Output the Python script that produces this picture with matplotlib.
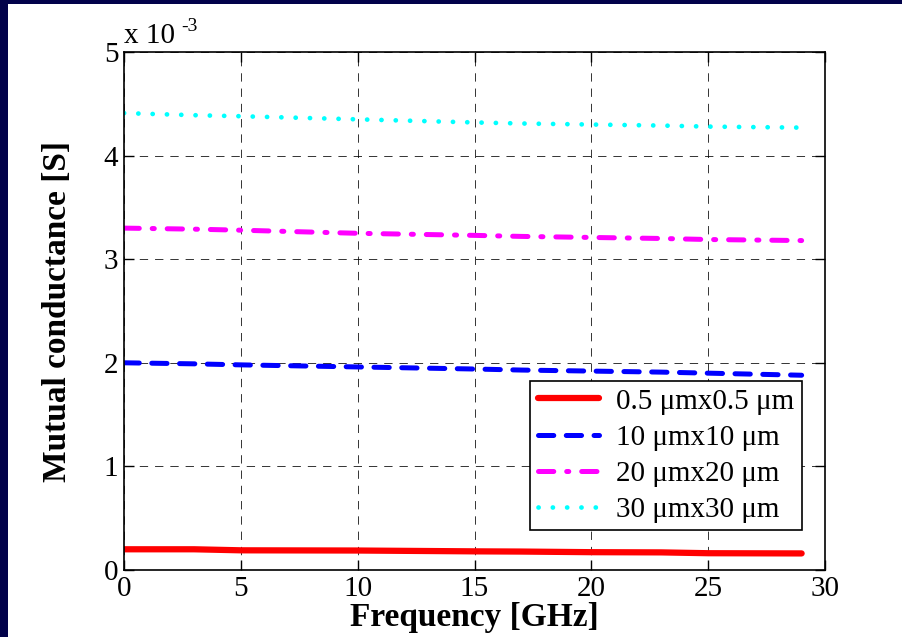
import matplotlib
matplotlib.use("Agg")
import matplotlib.pyplot as plt
from matplotlib.patches import Rectangle
from matplotlib.ticker import FuncFormatter, MultipleLocator

plt.rcParams['font.family'] = ['Liberation Serif', 'DejaVu Serif']
plt.rcParams['lines.scale_dashes'] = False

# Data (frequency in GHz, conductance in S)
freq = [0, 3, 5, 10, 15, 17, 20, 23, 25, 29]
g_05 = [0.200e-3, 0.200e-3, 0.190e-3, 0.188e-3, 0.180e-3, 0.178e-3, 0.172e-3, 0.170e-3, 0.162e-3, 0.160e-3]
g_10 = [2.00e-3, 1.99e-3, 1.98e-3, 1.96e-3, 1.94e-3, 1.93e-3, 1.92e-3, 1.91e-3, 1.90e-3, 1.88e-3]
g_20 = [3.30e-3, 3.29e-3, 3.28e-3, 3.25e-3, 3.23e-3, 3.22e-3, 3.21e-3, 3.20e-3, 3.19e-3, 3.18e-3]
g_30 = [4.41e-3, 4.39e-3, 4.38e-3, 4.35e-3, 4.32e-3, 4.31e-3, 4.30e-3, 4.29e-3, 4.28e-3, 4.27e-3]
labels = ['0.5 μmx0.5 μm', '10 μmx10 μm', '20 μmx20 μm', '30 μmx30 μm']

fig = plt.figure(figsize=(9.02, 6.37), dpi=100)
fig.patch.set_facecolor('#02024a')
fig.patches.append(Rectangle((8/902, 0), 1, (637-4)/637, transform=fig.transFigure,
                             facecolor='white', edgecolor='none', zorder=-10))

ax = fig.add_axes([124/902, 67/637, 701/902, 518/637])
ax.set_facecolor('white')

ax.plot(freq, g_05, color='red', lw=4.5, solid_capstyle='round', label=labels[0])
ax.plot(freq, g_10, color='blue', lw=3.6, dashes=(11, 9), dash_capstyle='round', label=labels[1])
ax.plot(freq, g_20, color='magenta', lw=3.6, dashes=(11, 9.3, 1.5, 9.3), dash_capstyle='round', label=labels[2])
ax.plot(freq, g_30, color='cyan', lw=3.4, dashes=(0.1, 10.2), dash_capstyle='round', label=labels[3])

ax.set_xlim(0, 30)
ax.set_ylim(0, 5e-3)
ax.xaxis.set_major_locator(MultipleLocator(5))
ax.yaxis.set_major_locator(MultipleLocator(1e-3))
ax.yaxis.set_major_formatter(FuncFormatter(lambda v, p: f"{v*1e3:.0f}"))
ax.grid(True, color='black', linestyle=(0, (6, 5)), linewidth=0.7, alpha=0.8)
ax.tick_params(direction='in', length=7, width=1, top=True, right=True, labelsize=21, pad=4)
for s in ax.spines.values():
    s.set_linewidth(1.2)

ax.set_xlabel('Frequency [GHz]', fontsize=24, fontweight='bold', labelpad=0)
ax.set_ylabel('Mutual conductance [S]', fontsize=24, fontweight='bold', labelpad=22)
ax.text(0.0, 1 + 9/518, 'x 10', transform=ax.transAxes, fontsize=21, ha='left', va='baseline')
ax.text(57/701, 1 + 21/518, '-3', transform=ax.transAxes, fontsize=14, ha='left', va='baseline')

leg = ax.legend(loc='lower right', bbox_to_anchor=(0.967, 0.077), borderaxespad=0,
                fontsize=21, handlelength=2.1, fancybox=False, framealpha=1,
                edgecolor='black', labelspacing=0.33, borderpad=0.25, handletextpad=0.6)
leg.get_frame().set_linewidth(1.2)

fig.savefig('out.png', dpi=100, facecolor=fig.get_facecolor())
